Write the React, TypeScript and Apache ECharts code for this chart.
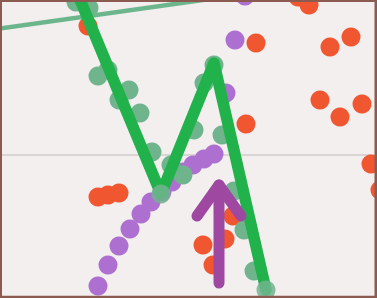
import React, { useEffect, useRef } from "react";
import * as echarts from "echarts";

// Scatter groups: [x, y]
const orangePoints: number[][] = [
  [8.8, 12.9], [29.8, 15.8], [30.9, 15.0], [25.6, 11.2], [33.0, 10.8], [35.1, 11.8],
  [32.0, 5.5], [34.0, 3.8], [36.2, 5.1], [24.6, 3.1], [37.1, -0.9], [38.0, -3.5],
  [9.8, -4.2], [10.8, -4.0], [11.9, -3.8], [20.3, -9.0], [22.5, -8.4], [21.3, -11.0], [23.3, -6.1],
];
const purplePoints: number[][] = [
  [9.8, -13.1], [10.8, -11.0], [11.9, -9.1], [13.0, -7.4], [14.1, -5.9], [15.1, -4.7],
  [16.2, -3.7], [17.2, -2.7], [18.3, -1.7], [19.3, -1.0], [20.4, -0.4], [21.4, 0.1],
  [22.6, 6.2], [23.5, 11.5], [24.5, 15.9],
];
const greenPoints: number[][] = [
  [7.6, 15.3], [8.9, 14.7], [9.8, 7.9], [10.8, 8.5], [11.9, 5.5], [12.9, 6.5], [14.0, 4.2],
  [15.2, 0.3], [17.1, -1.0], [18.3, -2.0], [19.4, 2.5], [20.4, 7.2], [21.4, 9.0], [22.2, 2.0],
  [23.4, -3.6], [24.4, -7.5], [25.4, -11.6],
];
const zigzagLine: number[][] = [
  [7.6, 16.5], [16.1, -3.9], [21.4, 9.2], [26.6, -13.5],
];
// vertices of the zigzag that carry a marker on top of the line
const zigzagMarked: boolean[] = [false, true, false, true];
const thinLine: number[][] = [
  [-1.0, 12.51], [25.0, 16.16],
];
const arrowHead: number[][] = [
  [19.7, -6.1], [21.9, -3.0], [24.1, -6.1],
];
const arrowShaft: number[][] = [
  [21.9, -3.0], [21.9, -12.8],
];

export default function App() {
  const ref = useRef<HTMLDivElement>(null);
  useEffect(() => {
    const chart = echarts.init(ref.current!, null, { renderer: "svg" });
    const borderColor = "#8B5A50";
    chart.setOption({
      animation: false,
      backgroundColor: "#F3EFEF",
      grid: { left: 0, right: 0, top: 0, bottom: 0 },
      xAxis: {
        type: "value",
        min: 0,
        max: 37.7,
        axisLine: { show: true, onZero: true, lineStyle: { color: "#D9D5D5", width: 2 } },
        axisTick: { show: false },
        axisLabel: { show: false },
        splitLine: { show: false },
      },
      yAxis: {
        type: "value",
        min: -14.3,
        max: 15.5,
        axisLine: { show: false },
        axisTick: { show: false },
        axisLabel: { show: false },
        splitLine: { show: false },
      },
      series: [
        {
          type: "scatter",
          data: orangePoints,
          symbolSize: 19,
          clip: false,
          itemStyle: { color: "#F05630", opacity: 1 },
          z: 2,
        },
        {
          type: "scatter",
          data: purplePoints,
          symbolSize: 19,
          clip: false,
          itemStyle: { color: "#AE70D0", opacity: 1 },
          z: 3,
        },
        {
          type: "scatter",
          data: greenPoints,
          symbolSize: 19,
          clip: false,
          itemStyle: { color: "#70B48E", opacity: 1 },
          z: 4,
        },
        {
          type: "line",
          data: thinLine,
          symbol: "none",
          lineStyle: { color: "#6DB68D", width: 4.5 },
          z: 5,
        },
        {
          type: "line",
          data: zigzagLine.map((p, i) => ({
            value: p,
            symbol: zigzagMarked[i] ? "circle" : "none",
          })),
          symbol: "circle",
          symbolSize: 19,
          showSymbol: true,
          itemStyle: { color: "#70B48E", opacity: 0.85 },
          lineStyle: { color: "#22B24C", width: 11.5, cap: "round", join: "round" },
          z: 6,
        },
        {
          type: "line",
          data: arrowHead,
          symbol: "none",
          lineStyle: { color: "#9E48A2", width: 11, cap: "round", join: "round" },
          z: 7,
        },
        {
          type: "line",
          data: arrowShaft,
          symbol: "none",
          lineStyle: { color: "#9E48A2", width: 11, cap: "round", join: "round" },
          z: 7,
        },
      ],
      graphic: [
        { type: "rect", z: 100, shape: { x: 0, y: 0, width: 377, height: 2 }, style: { fill: borderColor } },
        { type: "rect", z: 100, shape: { x: 0, y: 0, width: 2, height: 298 }, style: { fill: borderColor } },
        { type: "rect", z: 100, shape: { x: 374.5, y: 0, width: 2.5, height: 298 }, style: { fill: borderColor } },
        { type: "rect", z: 100, shape: { x: 0, y: 295.7, width: 377, height: 2.3 }, style: { fill: borderColor } },
      ],
    });
    return () => chart.dispose();
  }, []);
  return (
    <div
      ref={ref}
      style={{ position: "absolute", left: 0, top: 0, width: 377, height: 298 }}
    />
  );
}
